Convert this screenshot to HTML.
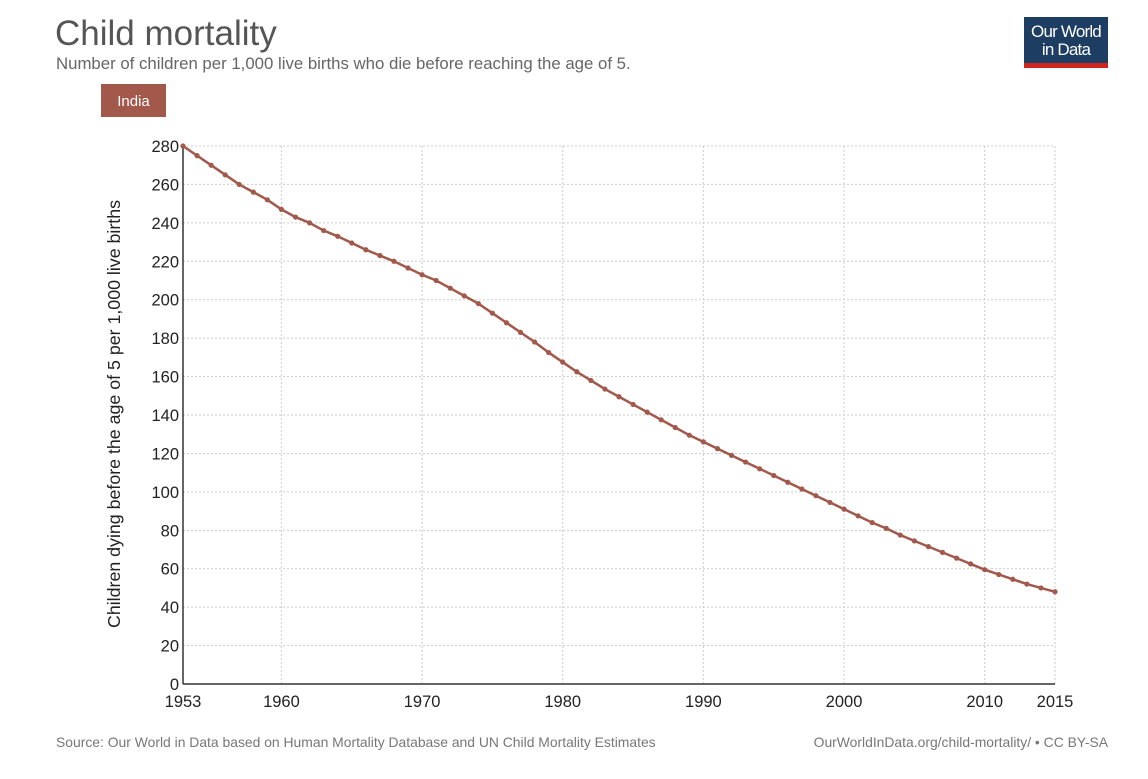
<!DOCTYPE html>
<html><head><meta charset="utf-8"><style>
body{margin:0;background:#fff;font-family:"Liberation Sans",sans-serif;}
</style></head><body>
<svg width="1148" height="774" xmlns="http://www.w3.org/2000/svg" font-family="Liberation Sans, sans-serif">
<text x="55" y="45" font-size="35" fill="#555">Child mortality</text>
<text x="56" y="69" font-size="16.8" fill="#666">Number of children per 1,000 live births who die before reaching the age of 5.</text>
<g>
<rect x="1024" y="17" width="84" height="51" fill="#1d3d63"/>
<rect x="1024" y="63" width="84" height="5" fill="#ce261e"/>
<text x="1066" y="37" font-size="17" fill="#fff" text-anchor="middle" letter-spacing="-0.8">Our World</text>
<text x="1066" y="55" font-size="17" fill="#fff" text-anchor="middle" letter-spacing="-0.8">in Data</text>
</g>
<g>
<rect x="101" y="84" width="65" height="33" fill="#a2584a"/>
<text x="133.5" y="106" font-size="15" fill="#fff" text-anchor="middle">India</text>
</g>
<text transform="translate(120,414) rotate(-90)" font-size="17.8" fill="#222" text-anchor="middle">Children dying before the age of 5 per 1,000 live births</text>
<g id="grid"></g>
<g id="axes"></g>
<path id="line" fill="none" stroke="#a2584a" stroke-width="2.5"/>
<g id="pts"></g>
<text x="56" y="747" font-size="13.9" fill="#777">Source: Our World in Data based on Human Mortality Database and UN Child Mortality Estimates</text>
<text x="1108" y="747" font-size="13.9" fill="#777" text-anchor="end">OurWorldInData.org/child-mortality/ • CC BY-SA</text>
</svg>
<script>
const years=[];for(let y=1953;y<=2015;y++)years.push(y);
const values=[280,275,270,265,260,256,252,247,243,240,236,233,229.5,226,223,220,216.5,213,210,206,202,198,193,188,183,178,172.5,167.5,162.5,158,153.5,149.5,145.5,141.5,137.5,133.5,129.5,126,122.5,119,115.5,112,108.5,105,101.5,98,94.5,91,87.5,84,81,77.5,74.5,71.5,68.5,65.5,62.5,59.5,57,54.5,52,50,48];
const yTicks=[0,20,40,60,80,100,120,140,160,180,200,220,240,260,280];
const xTicks=[1953,1960,1970,1980,1990,2000,2010,2015];
const NS="http://www.w3.org/2000/svg";
const X=v=>183+(v-1953)*(1055-183)/62;
const Y=v=>684-v*(684-146)/280;
const grid=document.getElementById('grid'),axes=document.getElementById('axes'),pts=document.getElementById('pts');
function el(t,a,p){const e=document.createElementNS(NS,t);for(const k in a)e.setAttribute(k,a[k]);p.appendChild(e);return e;}
yTicks.forEach(t=>{
 if(t>0){const l=el('line',{x1:183,x2:1055,y1:Y(t),y2:Y(t),stroke:'#ccc','stroke-dasharray':'2,2'},grid);
 
 }
 const tx=el('text',{x:179,y:Y(t)+6,'font-size':16.5,fill:'#222','text-anchor':'end'},axes);tx.textContent=t;
 
 
});
xTicks.forEach(t=>{
 if(t>1953){const l=el('line',{x1:X(t),x2:X(t),y1:146,y2:684,stroke:'#ccc','stroke-dasharray':'2,2'},grid);
 
 }
 const tx=el('text',{x:X(t),y:707,'font-size':16.5,fill:'#222','text-anchor':'middle'},axes);tx.textContent=t;
 
 
});
const ya=el('line',{x1:183,x2:183,y1:146,y2:684,stroke:'#333','stroke-width':1.5},axes);


const xa=el('line',{x1:183,x2:1055,y1:684,y2:684,stroke:'#333','stroke-width':1.5},axes);


document.getElementById('line').setAttribute('d',values.map((v,i)=>(i?'L':'M')+X(years[i])+','+Y(v)).join(''));
values.forEach((v,i)=>{const c=el('circle',{cx:X(years[i]),cy:Y(v),r:2.6,fill:'#a2584a'},pts);
 
 });
</script>
</body></html>
